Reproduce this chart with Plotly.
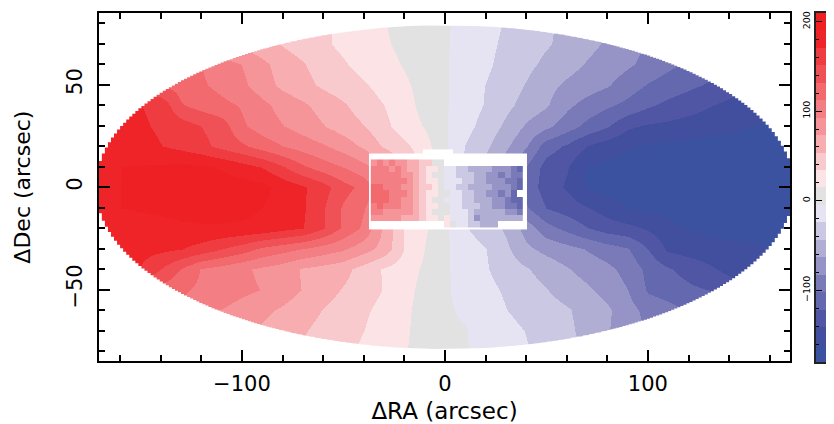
import numpy as np
import plotly.graph_objects as go

# ---------- colour bands (low to high) ----------
band_edges = [-180.4 + 19.5 * k for k in range(21)]
band_colors = ["#3a52a0", "#424f9e", "#5056a4", "#6468ae", "#7a7ab8", "#9694c6", "#b1aed4",
               "#cbc8e4", "#e6e4f2", "#e2e2e2", "#fce4e6", "#f9cacd", "#f8aeb1", "#f5959a",
               "#f37e84", "#f2696e", "#f05156", "#ef3c40", "#ee2428", "#ee2024"]

# ---------- large-scale velocity field ----------
ra_grid = list(range(-170, 171, 10))
dec_grid = [80, 70, 60, 50, 40, 30, 20, 10, 0, -10, -20, -30, -40, -50, -60, -70, -80]
vel_p80 = [130,122,115,105,95,85,75,67,60,53,45,37,30,22,15,9,3,-3,-10,-18,-26,-33,-41,-48,-56,-65,-73,-82,-90,-98,-105,-112,-118,-124,-130]
vel_p70 = [125,118,112,105,97,88,78,68,60,52,44,37,30,24,17,10,4,-3,-12,-20,-28,-35,-42,-49,-58,-66,-74,-85,-92,-99,-106,-112,-118,-124,-130]
vel_p60 = [159,149,139,130,125,112,100,92,78,64,55,44,36,28,21,13,5,-3,-13,-21,-31,-39,-48,-56,-65,-72,-80,-89,-98,-105,-112,-120,-126,-132,-138]
vel_p50 = [176,169,149,130,124,115,106,97,82,68,60,50,43,36,27,18,7,-3,-15,-25,-35,-45,-57,-67,-74,-81,-93,-104,-111,-118,-124,-132,-140,-147,-155]
vel_p40 = [179,176,171,165,133,124,117,110,98,85,76,66,56,44,34,22,8,-3,-15,-26,-39,-51,-61,-79,-90,-99,-108,-119,-127,-133,-140,-146,-152,-158,-164]
vel_p30 = [186,179,174,167,161,151,141,115,103,93,84,74,64,54,39,25,13,-3,-18,-32,-48,-66,-78,-93,-108,-120,-138,-144,-146,-150,-153,-157,-160,-163,-166]
vel_p20 = [190,184,179,171,165,157,145,135,123,112,103,95,84,69,51,39,22,-2,-25,-40,-60,-81,-112,-125,-142,-152,-159,-163,-165,-167,-168,-169,-170,-170,-170]
vel_p10 = [186,190,191,193,195,193,188,179,170,153,135,122,112,99,80,55,25,2,-28,-50,-75,-103,-130,-140,-162,-165,-168,-170,-172,-172,-172,-172,-172,-171,-170]
vel_000 = [186,190,193,196,199,201,201,199,196,183,173,159,139,125,95,60,25,2,-28,-52,-78,-108,-132,-144,-163,-168,-170,-172,-173,-174,-174,-174,-173,-172,-170]
vel_m10 = [186,190,192,194,196,197,197,196,190,181,173,153,129,113,90,58,25,2,-28,-50,-75,-100,-122,-131,-140,-151,-162,-165,-168,-170,-171,-172,-172,-172,-172]
vel_m20 = [173,176,183,184,187,188,188,186,184,177,171,153,128,108,69,34,17,-1,-23,-35,-47,-71,-95,-108,-121,-131,-136,-144,-155,-163,-165,-167,-167,-167,-167]
vel_m30 = [181,179,177,175,171,163,151,141,127,119,111,103,95,81,65,34,14,-2,-14,-24,-40,-59,-69,-76,-84,-93,-101,-122,-145,-150,-153,-156,-158,-160,-162]
vel_m40 = [179,176,170,151,131,111,104,96,89,82,71,66,60,45,32,24,11,-3,-11,-23,-33,-42,-52,-62,-71,-78,-90,-108,-120,-129,-138,-147,-161,-163,-165]
vel_m50 = [173,159,139,125,115,108,103,97,92,83,72,62,52,43,33,21,8,-3,-10,-19,-27,-35,-43,-52,-60,-70,-83,-105,-112,-118,-122,-130,-137,-145,-152]
vel_m60 = [169,149,130,120,110,100,92,85,78,70,61,53,45,37,28,18,8,-3,-7,-16,-24,-31,-36,-42,-51,-60,-76,-89,-95,-105,-115,-125,-135,-145,-155]
vel_m70 = [125,120,115,108,100,92,85,78,70,62,55,48,41,34,25,17,8,-3,-4,-11,-18,-25,-33,-40,-50,-62,-74,-85,-95,-105,-113,-120,-127,-133,-140]
vel_m80 = [120,112,105,98,90,82,75,68,62,58,52,46,38,31,23,16,7,-3,-4,-10,-16,-23,-30,-38,-46,-54,-62,-70,-78,-86,-94,-102,-110,-118,-126]
vel_rows = [vel_p80, vel_p70, vel_p60, vel_p50, vel_p40, vel_p30, vel_p20, vel_p10, vel_000,
            vel_m10, vel_m20, vel_m30, vel_m40, vel_m50, vel_m60, vel_m70, vel_m80]

# ---------- central high-resolution field ----------
n = None
core_ra = list(range(-35, 38, 3))
core_dec = [12, 9, 6, 3, 0, -3, -6, -9, -12, -15, -18]
core_p12 = [92,98,90,94,84,86,70,58,38,35,12,5, n,n,n,n,n,n,n,n,n,n,n,n,n]
core_p09 = [98,102,96,92,95,88,72,56,44,28,20,6, -8,-18,-25,-36,-44,-50,-56,-62,-66,-72,-78,-88,-108]
core_p06 = [106,102,108,98,100,82,76,62,42,34,14,2, -5,-15,-26,-28,-42,-48,-62,-64,-72,-84,-82,-92,-102]
core_p03 = [108,112,106,110,96,98,74,66,46,30,20,8, -8,-18,-20,-38,-36,-54,-52,-70,-76,-70,-88,-96,-106]
core_000 = [114,118,110,106,104,92,86,60,50,36,16,4, -5,-12,-25,-32,-45,-46,-62,-58,-82,-76,-82,-100,-112]
core_m03 = [122,126,116,110,98,102,80,70,44,28,18,3, -2,-16,-20,-35,-42,-56,-54,-66,-66,-86,-80,-104,n]
core_m06 = [126,122,118,106,102,86,84,60,48,30,12,-2, -6,-10,-22,-28,-38,-50,-60,-56,-72,-80,-86,-108,-112]
core_m09 = [112,116,106,100,94,90,76,64,42,26,16,6, -4,-8,-15,-26,-42,-40,-54,-58,-64,-68,-84,-96,-104]
core_m12 = [94,98,90,88,84,80,74,58,52,22,10,2, -2,-5,-16,-22,-30,-46,-46,-54,-56,-60,-68,-80,-84]
core_m15 = [82,86,78,76,84,72,70,58,46,20,33,0, 15,-6,-12,-24,-28,-70,-50,-52,-52,-56,-56,-58,-62]
core_m18 = [n,n,n,n,n,n,n,n,n,n,n,n, 30,0,-10,-15,-28,-38,-46,-48,-48,n,n,n,n]
core_rows = [core_p12, core_p09, core_p06, core_p03, core_000, core_m03, core_m06, core_m09,
             core_m12, core_m15, core_m18]

# ---------- white frame round the central field ----------
frame_ra_edges = [-37.4, -10.8, 4.0, 40.4]
frame_dec_edges = [-20.4, 16.5, 18.4]
frame_cells = [[1, 1, 1], [n, 1, n]]

# ---------- footprint of the large-scale map ----------
map_semi_ra = 172.0
map_semi_dec = 79.0
map_step = 1.5

# ---------- ticks and labels ----------
ra_ticks = [-100, 0, 100]
dec_ticks = [-50, 0, 50]
bar_ticks = [-100, 0, 100, 200]
xlabel = "ΔRA (arcsec)"
ylabel = "ΔDec (arcsec)"

PAGE = 8  # the page's own body margin
W, H = 834 - PAGE, 424 - PAGE
AX_L, AX_R, AX_T, AX_B = 99 - PAGE, 790 - PAGE, 11 - PAGE, 361 - PAGE
BAR_L, BAR_T, BAR_B = 816 - PAGE, 11 - PAGE, 362 - PAGE
FONT = "DejaVu Sans"
zlo, zhi = band_edges[0], band_edges[-1]

colorscale = []
for k, c in enumerate(band_colors):
    colorscale.append([k / len(band_colors), c])
    colorscale.append([(k + 1) / len(band_colors), c])

fig = go.Figure()
fig.add_trace(go.Heatmap(x=ra_grid, y=dec_grid, z=vel_rows, zsmooth="best", colorscale=colorscale,
                         zmin=zlo, zmax=zhi, showscale=False, hoverinfo="skip"))
fig.add_trace(go.Heatmap(x=frame_ra_edges, y=frame_dec_edges, z=frame_cells, zmin=0, zmax=1,
                         colorscale=[[0, "#ffffff"], [1, "#ffffff"]], showscale=False, hoverinfo="skip"))
fig.add_trace(go.Heatmap(x=core_ra, y=core_dec, z=core_rows, colorscale=colorscale,
                         zmin=zlo, zmax=zhi, showscale=False, hoverinfo="skip"))

# white outside the elliptical footprint, with the map's pixel-stepped edge
xs = np.arange(-map_semi_ra - 3, map_semi_ra + 3.01, map_step)
edge = map_semi_dec * np.sqrt(np.clip(1 - ((xs + map_step / 2) / map_semi_ra) ** 2, 0, None))
xstep = np.repeat(xs, 2)[1:]
ystep = np.repeat(edge, 2)[:-1]
top_x = list(xstep) + [xs[-1], xs[0]]
top_y = list(ystep) + [95, 95]
bot_y = list(-ystep) + [-95, -95]
fig.add_trace(go.Scatter(x=top_x + [None] + top_x, y=top_y + [None] + bot_y, mode="lines",
                         fill="toself", fillcolor="#ffffff", line=dict(width=0, color="#ffffff"),
                         hoverinfo="skip", showlegend=False))

# colour-bar strip
bar_mid = [(band_edges[i] + band_edges[i + 1]) / 2 for i in range(len(band_colors))]
fig.add_trace(go.Heatmap(x=[0, 1], y=band_edges, z=[[v] for v in bar_mid], colorscale=colorscale,
                         zmin=zlo, zmax=zhi, showscale=False, hoverinfo="skip",
                         xaxis="x2", yaxis="y2"))

axis_common = dict(showline=True, linecolor="#000000", linewidth=2, showgrid=False, zeroline=False,
                   ticks="inside", tickcolor="#000000", tickwidth=1.5, ticklen=11,
                   tickfont=dict(family=FONT, size=21, color="#000000"), mirror="ticks")
fig.update_layout(
    width=W, height=H, margin=dict(l=0, r=0, t=0, b=0), paper_bgcolor="#ffffff", plot_bgcolor="#ffffff",
    showlegend=False, font=dict(family=FONT, color="#000000"),
    xaxis=dict(domain=[AX_L / W, AX_R / W], range=[-170.4, 170], tickmode="array", tickvals=ra_ticks,
               minor=dict(dtick=20, tick0=0, ticks="inside", ticklen=6, tickcolor="#000000", tickwidth=1.5, showgrid=False),
               ticklabelstandoff=2, anchor="y",
               title=dict(text=xlabel, standoff=12, font=dict(family=FONT, size=23)), **axis_common),
    yaxis=dict(domain=[1 - AX_B / H, 1 - AX_T / H], range=[-85, 85], tickmode="array", tickvals=dec_ticks,
               minor=dict(dtick=10, tick0=0, ticks="inside", ticklen=6, tickcolor="#000000", tickwidth=1.5, showgrid=False),
               tickangle=-90, ticklabelstandoff=7, anchor="x",
               title=dict(text=ylabel, standoff=26, font=dict(family=FONT, size=22)), **axis_common),
    xaxis2=dict(domain=[BAR_L / W, 1], range=[0, 1], showticklabels=False, ticks="", showgrid=False,
                zeroline=False, showline=True, linecolor="#222222", linewidth=1.5, anchor="y2", mirror=True),
    yaxis2=dict(domain=[1 - BAR_B / H, 1 - BAR_T / H], range=[zlo, zhi], tickmode="array", tickvals=bar_ticks,
                ticks="inside", ticklen=6, tickcolor="#000000", tickwidth=1, tickangle=-90,
                minor=dict(dtick=20, tick0=0, ticks="inside", ticklen=3, tickcolor="#000000", tickwidth=1, showgrid=False),
                tickfont=dict(family=FONT, size=9.5, color="#000000"), showgrid=False, zeroline=False,
                showline=True, linecolor="#222222", linewidth=1.5, anchor="x2", side="left"),
)
fig.write_html("out.html")
